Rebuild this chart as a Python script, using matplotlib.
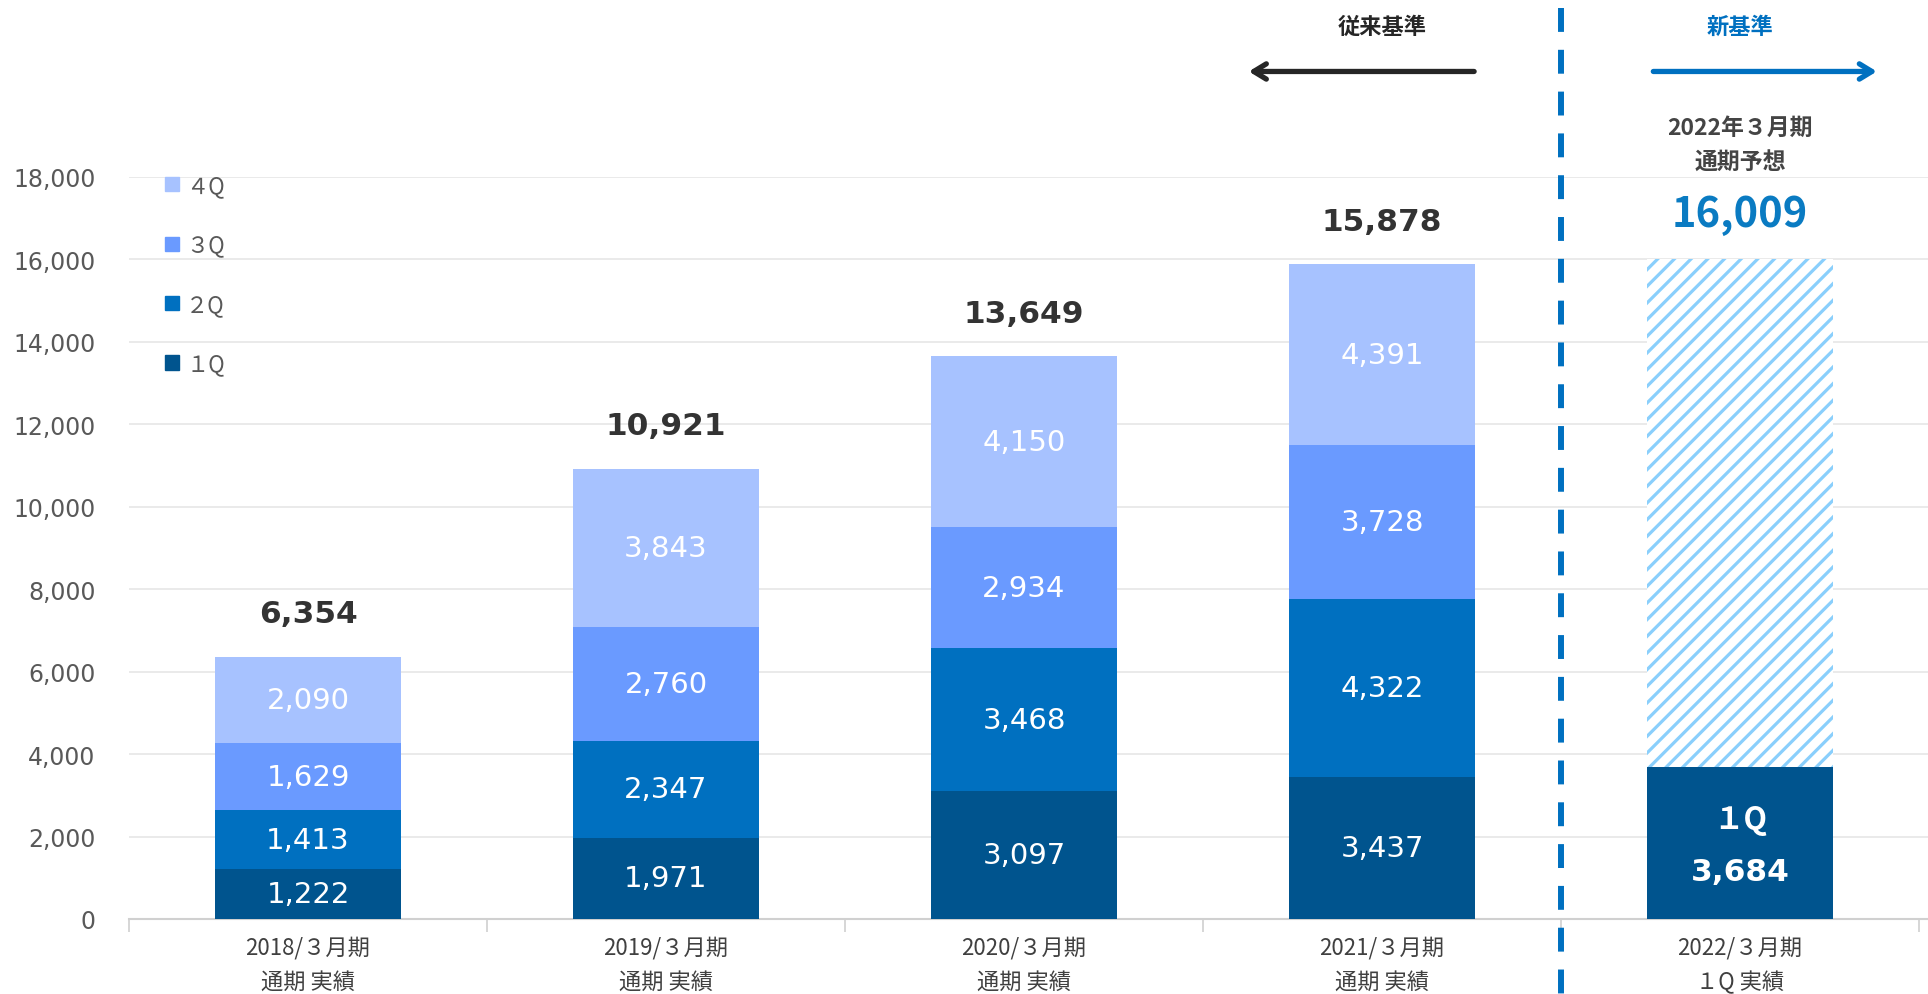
import matplotlib.pyplot as plt
from matplotlib.patches import Patch

plt.rcParams['font.family'] = ['DejaVu Sans', 'Noto Sans CJK JP']
plt.rcParams['hatch.linewidth'] = 2.3

JP = ['Noto Sans CJK JP', 'DejaVu Sans']

periods = ['2018/３月期\n通期 実績', '2019/３月期\n通期 実績', '2020/３月期\n通期 実績',
           '2021/３月期\n通期 実績', '2022/３月期\n１Q 実績']
q1 = [1222, 1971, 3097, 3437, 3684]
q2 = [1413, 2347, 3468, 4322]
q3 = [1629, 2760, 2934, 3728]
q4 = [2090, 3843, 4150, 4391]
totals = [6354, 10921, 13649, 15878]
forecast = 16009
quarter_names = ['１Q', '２Q', '３Q', '４Q']

colors = ['#00548e', '#0070c0', '#6a9aff', '#a7c2ff']
hatch_color = '#8acffc'
dark = '#333333'
grey = '#595959'
accent = '#0a7bc2'

fig = plt.figure(figsize=(19.28, 9.95), dpi=100)
ax = fig.add_axes([129 / 1928, 75 / 995, 1799 / 1928, 742 / 995])

w = 0.52
x_all = list(range(len(periods)))
x_old = x_all[:4]

# stacked quarters for past years
bottom = [0] * 4
for vals, c in zip([q1[:4], q2, q3, q4], colors):
    ax.bar(x_old, vals, w, bottom=bottom, color=c, zorder=3)
    for xi, b, v in zip(x_old, bottom, vals):
        ax.text(xi, b + v / 2, f'{v:,}', ha='center', va='center',
                color='white', fontsize=21, zorder=4)
    bottom = [b + v for b, v in zip(bottom, vals)]

for xi, t in zip(x_old, totals):
    ax.text(xi, t + 1050, f'{t:,}', ha='center', va='center',
            color=dark, fontsize=22.5, fontweight='bold')

# current year: 1Q actual + forecast remainder
ax.bar(4, q1[4], w, color=colors[0], zorder=3)
ax.bar(4, forecast - q1[4], w, bottom=q1[4], facecolor='white',
       edgecolor=hatch_color, linewidth=0, hatch='//', zorder=3)
ax.text(4, q1[4] / 2 + 590, '１Q', ha='center', va='center', color='white',
        fontsize=22, fontweight='bold', family=JP, zorder=4)
ax.text(4, q1[4] / 2 - 700, f'{q1[4]:,}', ha='center', va='center',
        color='white', fontsize=22.5, fontweight='bold', zorder=4)

ax.text(4, 17110, f'{forecast:,}', ha='center', va='center', color=accent,
        fontsize=30, fontweight='bold', family=JP)
ax.text(4, 19200, '2022年３月期', ha='center', va='center', color='#444444',
        fontsize=16.5, fontweight='bold', family=JP)
ax.text(4, 18370, '通期予想', ha='center', va='center', color='#444444',
        fontsize=16.5, fontweight='bold', family=JP)

# basis change divider and arrows
ax.plot([3.5, 3.5], [22110, -1900], color='#0070c0', lw=4.3,
        dashes=(4, 3), clip_on=False, zorder=5)
ax.annotate('', xy=(2.62, 20560), xytext=(3.265, 20560),
            arrowprops=dict(arrowstyle='->,head_length=0.9,head_width=0.55',
                            color='#262626', lw=3.8), annotation_clip=False)
ax.annotate('', xy=(4.39, 20560), xytext=(3.75, 20560),
            arrowprops=dict(arrowstyle='->,head_length=0.9,head_width=0.55',
                            color='#0070c0', lw=3.8), annotation_clip=False)
ax.text(3.0, 21650, '従来基準', ha='center', va='center', color='#262626',
        fontsize=16, fontweight='bold', family=JP)
ax.text(4.0, 21650, '新基準', ha='center', va='center', color='#0070c0',
        fontsize=16, fontweight='bold', family=JP)

# axes styling
ax.set_xlim(-0.5, 4.525)
ax.set_ylim(0, 18000)
ax.set_yticks(range(0, 18001, 2000))
ax.set_yticklabels([f'{v:,}' for v in range(0, 18001, 2000)])
ax.tick_params(axis='y', length=0, pad=24, labelsize=17, labelcolor=grey)
ax.set_xticks(x_all)
ax.set_xticklabels(periods, family=JP, fontsize=16, color='#404040',
                   linespacing=1.6)
ax.tick_params(axis='x', which='major', length=0, pad=12)
ax.set_xticks([i - 0.5 for i in range(6)], minor=True)
ax.tick_params(axis='x', which='minor', length=9, width=1.2, color='#d0d0d0')
ax.grid(axis='y', color='#e6e6e6', lw=1.2, zorder=0)
for s in ['top', 'right', 'left']:
    ax.spines[s].set_visible(False)
ax.spines['bottom'].set_color('#d0d0d0')
ax.spines['bottom'].set_linewidth(1.5)

handles = [Patch(color=c, label=n) for c, n in zip(colors, quarter_names)][::-1]
leg = ax.legend(handles=handles, loc='upper left', bbox_to_anchor=(0.009, 1.031),
                frameon=False, handlelength=0.6, handleheight=0.6,
                handletextpad=0.35, labelspacing=1.64, prop={'family': JP, 'size': 16})
for t in leg.get_texts():
    t.set_color(grey)

fig.savefig('out.png', dpi=100)
